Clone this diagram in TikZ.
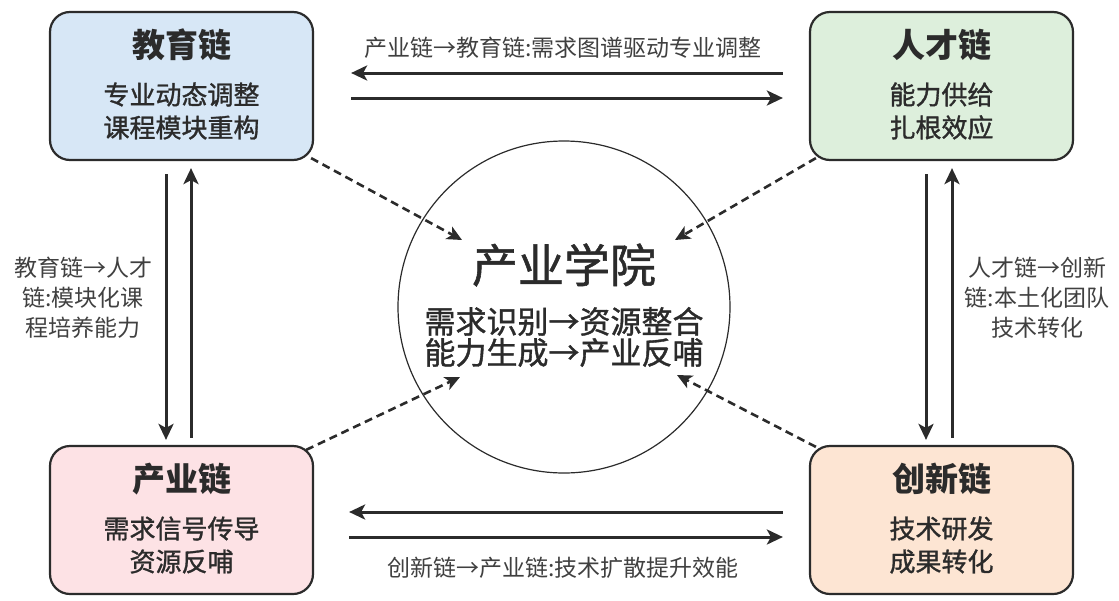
\documentclass[tikz,border=0pt]{standalone}
\usepackage{fontspec}
\setmainfont{Noto Sans CJK SC}
\newfontfamily\cjkmedium[FakeBold=1.2]{Noto Sans CJK SC}
\usetikzlibrary{arrows.meta}

\definecolor{eduBlue}{HTML}{D7E7F6}
\definecolor{talentGreen}{HTML}{DDEFDC}
\definecolor{industryPink}{HTML}{FDE2E5}
\definecolor{innovPeach}{HTML}{FDE5D3}
\definecolor{lineGray}{HTML}{2B2B2B}

\tikzset{
    chainbox/.style={draw=lineGray, line width=2.2pt, rounded corners=20pt,
        minimum width=263pt, minimum height=148pt, inner sep=0pt},
    boxtitle/.style={font=\fontsize{33}{38}\selectfont\bfseries, text=lineGray},
    boxbody/.style={font=\cjkmedium\fontsize{26}{33}\selectfont, text=lineGray, align=center},
    flowlabel/.style={font=\fontsize{23}{30}\selectfont, text=lineGray!90, align=center},
    flow/.style={line width=3pt, draw=lineGray,
        -{Stealth[length=16pt,width=15pt,inset=4pt]}},
    feed/.style={line width=2.6pt, draw=lineGray, dash pattern=on 8pt off 5pt,
        -{Stealth[length=15pt,width=14pt,inset=4pt]}}
}

\begin{document}
\begin{tikzpicture}[x=1pt, y=-1pt]
    \useasboundingbox (0,0) rectangle (1119,600);

    % Four chains at the corners
    \node[chainbox, fill=eduBlue] (edu) at (181.5,86) {};
    \node[chainbox, fill=talentGreen] (talent) at (941.5,86) {};
    \node[chainbox, fill=industryPink] (industry) at (181.5,520) {};
    \node[chainbox, fill=innovPeach] (innov) at (941.5,520) {};

    % Box texts
    \node[boxtitle] (edu-title) at ([yshift=41pt]edu.center) {教育链};
    \node[boxbody] (edu-text) at ([yshift=-25pt]edu.center) {专业动态调整\\课程模块重构};
    \node[boxtitle] (talent-title) at ([yshift=41pt]talent.center) {人才链};
    \node[boxbody] (talent-text) at ([yshift=-25pt]talent.center) {能力供给\\扎根效应};
    \node[boxtitle] (industry-title) at ([yshift=41pt]industry.center) {产业链};
    \node[boxbody] (industry-text) at ([yshift=-25pt]industry.center) {需求信号传导\\资源反哺};
    \node[boxtitle] (innov-title) at ([yshift=41pt]innov.center) {创新链};
    \node[boxbody] (innov-text) at ([yshift=-25pt]innov.center) {技术研发\\成果转化};

    % Industrial college in the middle
    \node[circle, draw=lineGray, line width=1.2pt, minimum size=332pt, inner sep=0pt] (college) at (564,307) {};
    \node[font=\cjkmedium\fontsize{46}{50}\selectfont, text=lineGray] (college-title) at ([yshift=42pt]college.center) {产业学院};
    \node[font=\cjkmedium\fontsize{31}{31}\selectfont, text=lineGray, align=center] (college-text)
        at ([yshift=-30pt]college.center) {需求识别→资源整合\\能力生成→产业反哺};

    % Horizontal flows
    \draw[flow] ([xshift=-26pt,yshift=13pt]talent.west) -- ([xshift=37pt,yshift=13pt]edu.east);
    \draw[flow] ([xshift=37pt,yshift=-12pt]edu.east) -- ([xshift=-26pt,yshift=-12pt]talent.west);
    \draw[flow] ([xshift=-26pt,yshift=8pt]innov.west) -- ([xshift=35pt,yshift=8pt]industry.east);
    \draw[flow] ([xshift=35pt,yshift=-17pt]industry.east) -- ([xshift=-26pt,yshift=-17pt]innov.west);

    % Vertical flows
    \draw[flow] ([xshift=-15.5pt,yshift=-13pt]edu.south) -- ([xshift=-15.5pt,yshift=5pt]industry.north);
    \draw[flow] ([xshift=9.5pt,yshift=7pt]industry.north) -- ([xshift=9.5pt,yshift=-7pt]edu.south);
    \draw[flow] ([xshift=-15.5pt,yshift=-13pt]talent.south) -- ([xshift=-15.5pt,yshift=5pt]innov.north);
    \draw[flow] ([xshift=10.5pt,yshift=7pt]innov.north) -- ([xshift=10.5pt,yshift=-7pt]talent.south);

    % Flow labels
    \node[flowlabel] (top-label) at (563,48) {产业链→教育链:需求图谱驱动专业调整};
    \node[flowlabel] (bottom-label) at (563,568) {创新链→产业链:技术扩散提升效能};
    \node[flowlabel] (left-label) at (83,298) {教育链→人才\\链:模块化课\\程培养能力};
    \node[flowlabel] (right-label) at (1037,298) {人才链→创新\\链:本土化团队\\技术转化};

    % Feedback into the college
    \coordinate (edu-out) at ([xshift=-3pt,yshift=3pt]edu.south east);
    \coordinate (talent-out) at ([xshift=7pt,yshift=3pt]talent.south west);
    \coordinate (industry-out) at ([xshift=-8pt,yshift=-5pt]industry.north east);
    \coordinate (innov-out) at ([xshift=7pt,yshift=-2pt]innov.north west);
    \coordinate (college-nw) at (462,240);
    \coordinate (college-ne) at (675,240);
    \coordinate (college-sw) at (460,377);
    \coordinate (college-se) at (677,375);
    \draw[feed] (edu-out) -- (college-nw);
    \draw[feed] (talent-out) -- (college-ne);
    \draw[feed] (industry-out) -- (college-sw);
    \draw[feed] (innov-out) -- (college-se);
\end{tikzpicture}
\end{document}
